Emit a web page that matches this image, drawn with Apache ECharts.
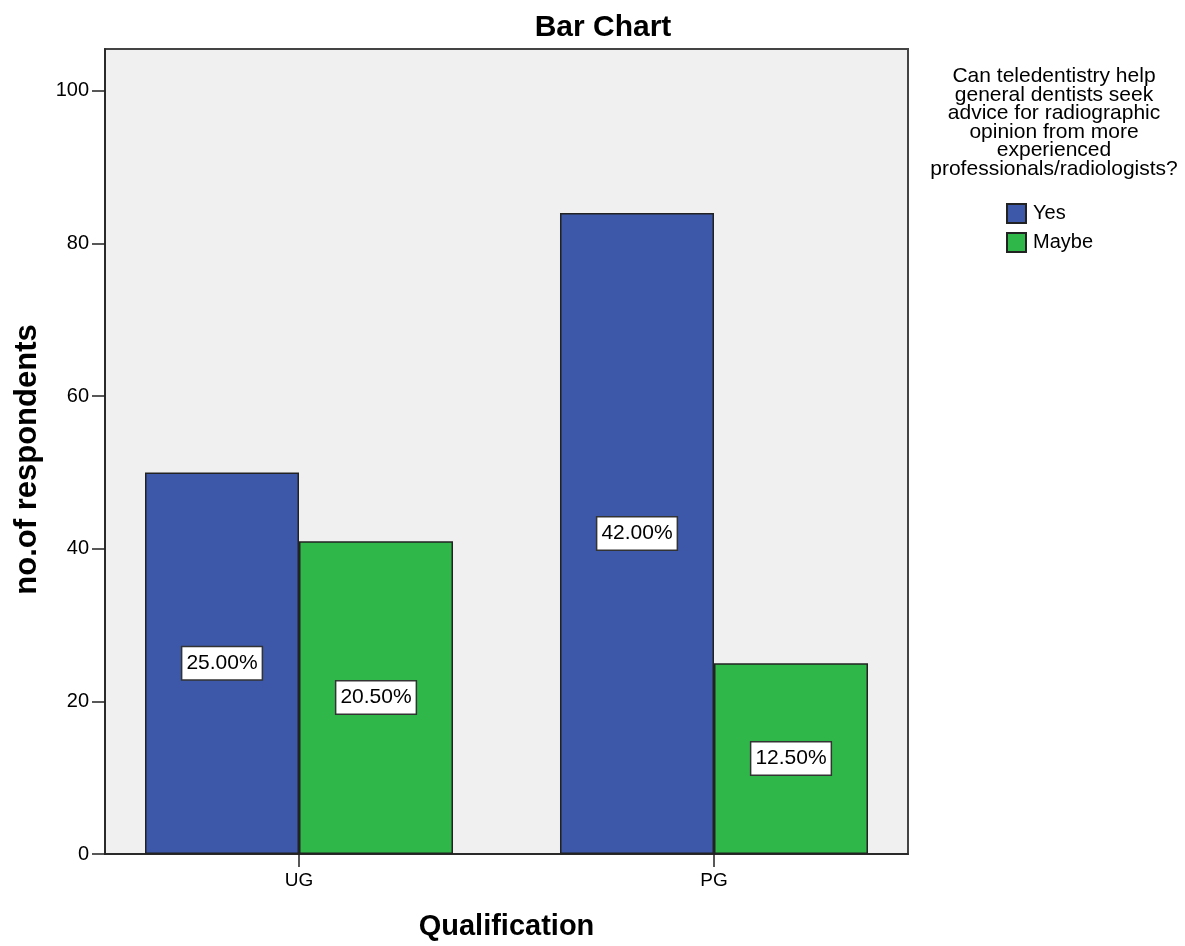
<!DOCTYPE html>
<html>
<head>
<meta charset="utf-8">
<script src="https://cdn.jsdelivr.net/npm/echarts@6/dist/echarts.min.js"></script>
<style>
html,body{margin:0;padding:0;background:#fff;}
#chart{width:1185px;height:946px;}
</style>
</head>
<body>
<div id="chart"></div>
<script>
// ---- data ----
const categories = ['UG', 'PG'];
const seriesNames = ['Yes', 'Maybe'];
const yesCounts = [50, 84];
const maybeCounts = [41, 25];
const yesPercents = [25.00, 42.00];
const maybePercents = [20.50, 12.50];
const yTicks = [0, 20, 40, 60, 80, 100];
const legendTitle = 'Can teledentistry help\ngeneral dentists seek\nadvice for radiographic\nopinion from more\nexperienced\nprofessionals/radiologists?';

const FONT = '"Liberation Sans", Arial, sans-serif';
const chart = echarts.init(document.getElementById('chart'), null, {renderer: 'canvas'});

function toPoints(counts) {
  return counts.map((v, i) => [i, v]);
}
function pctLabel(pcts) {
  return function (p) { return pcts[p.dataIndex].toFixed(2) + '%'; };
}
const labelStyle = {
  show: true,
  position: 'inside',
  color: '#000',
  fontFamily: FONT,
  fontSize: 21,
  backgroundColor: '#fff',
  borderColor: '#333',
  borderWidth: 1.5,
  padding: [6, 4, 5, 4]
};

chart.setOption({
  animation: false,
  backgroundColor: '#fff',
  title: [
    {
      text: 'Bar Chart', left: 598, top: 8, textAlign: 'center',
      textStyle: {fontFamily: FONT, fontSize: 30, fontWeight: 'bold', color: '#000'}
    },
    {
      text: legendTitle, left: 1049, top: 62, textAlign: 'center',
      textStyle: {fontFamily: FONT, fontSize: 21, fontWeight: 'normal', color: '#000', lineHeight: 18.6}
    }
  ],
  legend: {
    orient: 'vertical', left: 1001, top: 198,
    itemWidth: 19, itemHeight: 19, itemGap: 8,
    icon: 'rect',
    textStyle: {fontFamily: FONT, fontSize: 20, color: '#000', padding: [0, 0, 0, 2]},
    data: seriesNames
  },
  grid: {
    left: 105, right: 277, top: 49, bottom: 90,
    show: true, backgroundColor: '#f0f0f0', borderColor: '#444', borderWidth: 2
  },
  xAxis: {
    type: 'value',
    min: -0.4675, max: 1.4675,
    name: 'Qualification', nameLocation: 'middle', nameGap: 58,
    nameTextStyle: {fontFamily: FONT, fontSize: 29, fontWeight: 'bold', color: '#000'},
    axisLine: {show: true, onZero: false, lineStyle: {color: '#222', width: 1.5}},
    axisTick: {show: true, length: 13, customValues: categories.map((c, i) => i), lineStyle: {color: '#222', width: 1.5}},
    axisLabel: {
      show: true, margin: 17, customValues: categories.map((c, i) => i),
      formatter: function (v) { return categories[Math.round(v)] || ''; },
      fontFamily: FONT, fontSize: 19, color: '#000'
    },
    splitLine: {show: false}
  },
  yAxis: {
    type: 'value', min: 0, max: 105.5,
    name: 'no.of respondents', nameLocation: 'middle', nameGap: 62,
    nameTextStyle: {fontFamily: FONT, fontSize: 31, fontWeight: 'bold', color: '#000', padding: [0, 16, 0, 0]},
    axisLine: {show: true, onZero: false, lineStyle: {color: '#222', width: 1.5}},
    axisTick: {show: true, length: 13, customValues: yTicks, lineStyle: {color: '#222', width: 1.5}},
    axisLabel: {show: true, margin: 16, customValues: yTicks, fontFamily: FONT, fontSize: 20, color: '#000', padding: [5, 0, 0, 0]},
    splitLine: {show: false}
  },
  series: [
    {
      name: seriesNames[0], type: 'bar', data: toPoints(yesCounts),
      barWidth: 154, barGap: '0%',
      itemStyle: {color: '#3d58a9', borderColor: '#222', borderWidth: 1.5},
      label: Object.assign({}, labelStyle, {formatter: pctLabel(yesPercents)})
    },
    {
      name: seriesNames[1], type: 'bar', data: toPoints(maybeCounts),
      barWidth: 154, barGap: '0%',
      itemStyle: {color: '#30b74a', borderColor: '#222', borderWidth: 1.5},
      label: Object.assign({}, labelStyle, {formatter: pctLabel(maybePercents)})
    }
  ]
});
</script>
</body>
</html>
